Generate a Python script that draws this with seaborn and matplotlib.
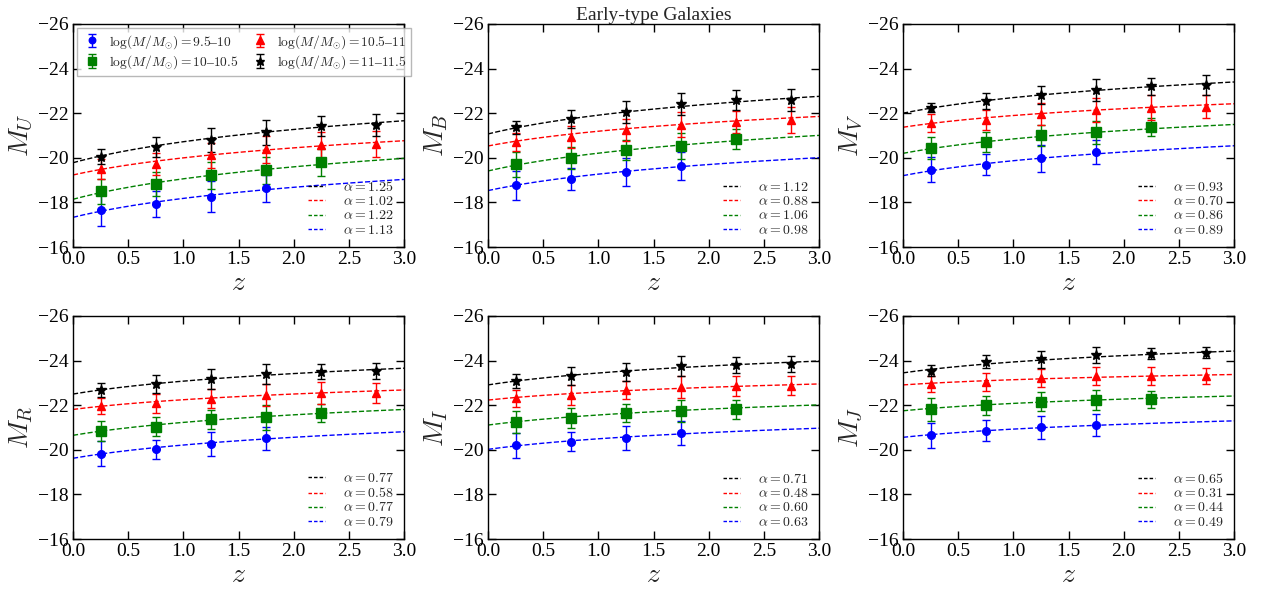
import numpy as np
import pandas as pd
import matplotlib
matplotlib.use("Agg")
import matplotlib.pyplot as plt
import seaborn as sns
from matplotlib.lines import Line2D

# ---------------- data ----------------
bands = ["U", "B", "V", "R", "I", "J"]
z_bins = [0.25, 0.75, 1.25, 1.75, 2.25, 2.75]
mass_labels = [r"$\log(M/M_{\odot})=9.5$–$10$", r"$\log(M/M_{\odot})=10$–$10.5$",
               r"$\log(M/M_{\odot})=10.5$–$11$", r"$\log(M/M_{\odot})=11$–$11.5$"]
colors = ["b", "g", "r", "k"]
markers = ["o", "s", "^", "*"]
marker_sizes = [5.5, 6.5, 6.0, 7.5]

# magnitudes per band, per mass bin (blue, green, red, black)
mag_U = [[-17.64, -17.94, -18.26, -18.63],
         [-18.50, -18.83, -19.21, -19.44, -19.80],
         [-19.48, -19.72, -20.11, -20.38, -20.56, -20.62],
         [-20.05, -20.47, -20.80, -21.14, -21.43, -21.46]]
err_U = [[0.70, 0.58, 0.70, 0.60],
         [0.55, 0.55, 0.60, 0.60, 0.60],
         [0.45, 0.50, 0.55, 0.60, 0.60, 0.60],
         [0.35, 0.45, 0.55, 0.55, 0.45, 0.50]]
mag_B = [[-18.78, -19.06, -19.35, -19.63],
         [-19.71, -19.98, -20.35, -20.53, -20.83],
         [-20.69, -20.92, -21.25, -21.49, -21.62, -21.70],
         [-21.37, -21.75, -22.05, -22.40, -22.60, -22.60]]
err_B = [[0.65, 0.50, 0.63, 0.62],
         [0.55, 0.50, 0.45, 0.60, 0.45],
         [0.40, 0.50, 0.50, 0.55, 0.50, 0.60],
         [0.30, 0.40, 0.50, 0.50, 0.45, 0.50]]
mag_V = [[-19.47, -19.68, -19.98, -20.25],
         [-20.43, -20.69, -21.01, -21.14, -21.37],
         [-21.55, -21.70, -21.95, -22.15, -22.25, -22.30],
         [-22.25, -22.55, -22.80, -23.05, -23.20, -23.25]]
err_V = [[0.55, 0.47, 0.60, 0.55],
         [0.50, 0.45, 0.47, 0.50, 0.40],
         [0.40, 0.45, 0.50, 0.55, 0.55, 0.50],
         [0.20, 0.35, 0.40, 0.50, 0.40, 0.45]]
mag_R = [[-19.83, -20.02, -20.27, -20.51],
         [-20.84, -21.04, -21.37, -21.46, -21.64],
         [-21.96, -22.08, -22.30, -22.46, -22.56, -22.53],
         [-22.68, -22.94, -23.17, -23.39, -23.51, -23.53]]
err_R = [[0.55, 0.43, 0.55, 0.52],
         [0.46, 0.41, 0.43, 0.56, 0.41],
         [0.37, 0.42, 0.43, 0.50, 0.49, 0.45],
         [0.30, 0.40, 0.45, 0.45, 0.35, 0.35]]
mag_I = [[-20.20, -20.36, -20.54, -20.75],
         [-21.23, -21.41, -21.66, -21.75, -21.81],
         [-22.31, -22.46, -22.68, -22.80, -22.88, -22.88],
         [-23.10, -23.32, -23.50, -23.75, -23.80, -23.85]]
err_I = [[0.55, 0.43, 0.54, 0.55],
         [0.49, 0.45, 0.41, 0.50, 0.41],
         [0.39, 0.43, 0.40, 0.49, 0.45, 0.43],
         [0.32, 0.40, 0.40, 0.45, 0.35, 0.35]]
mag_J = [[-20.66, -20.86, -21.01, -21.11],
         [-21.81, -22.00, -22.16, -22.23, -22.26],
         [-22.95, -23.05, -23.21, -23.31, -23.31, -23.31],
         [-23.55, -23.95, -24.05, -24.25, -24.30, -24.35]]
err_J = [[0.56, 0.46, 0.51, 0.50],
         [0.50, 0.43, 0.43, 0.45, 0.37],
         [0.37, 0.40, 0.40, 0.40, 0.40, 0.35],
         [0.25, 0.30, 0.40, 0.35, 0.25, 0.25]]

# fit parameters: M(z) = M0 - 2.5 * alpha * log10(1+z)   (blue, green, red, black)
fit_M0_U = [-17.33, -18.14, -19.23, -19.78]
fit_alpha_U = [1.13, 1.22, 1.02, 1.25]
fit_M0_B = [-18.53, -19.41, -20.53, -21.07]
fit_alpha_B = [0.98, 1.06, 0.88, 1.12]
fit_M0_V = [-19.20, -20.20, -21.37, -22.00]
fit_alpha_V = [0.89, 0.86, 0.70, 0.93]
fit_M0_R = [-19.62, -20.65, -21.81, -22.50]
fit_alpha_R = [0.79, 0.77, 0.58, 0.77]
fit_M0_I = [-20.02, -21.11, -22.23, -22.91]
fit_alpha_I = [0.63, 0.60, 0.48, 0.71]
fit_M0_J = [-20.56, -21.75, -22.91, -23.45]
fit_alpha_J = [0.49, 0.44, 0.31, 0.65]

mags = [mag_U, mag_B, mag_V, mag_R, mag_I, mag_J]
errs = [err_U, err_B, err_V, err_R, err_I, err_J]
fit_M0 = [fit_M0_U, fit_M0_B, fit_M0_V, fit_M0_R, fit_M0_I, fit_M0_J]
fit_alpha = [fit_alpha_U, fit_alpha_B, fit_alpha_V, fit_alpha_R, fit_alpha_I, fit_alpha_J]

title = "Early-type Galaxies"

# ---------------- style ----------------
sns.set_style("ticks")
plt.rcParams["font.family"] = ["Liberation Serif", "DejaVu Serif"]
plt.rcParams["mathtext.fontset"] = "cm"
plt.rcParams["axes.unicode_minus"] = True

W, H = 1266, 593
fig = plt.figure(figsize=(W / 100, H / 100), dpi=100)
lefts = [73, 488, 903]
tops = [24, 316]
aw, ah = 331, 223

zgrid = np.linspace(0, 3, 200)

for i, band in enumerate(bands):
    r, c = divmod(i, 3)
    ax = fig.add_axes([lefts[c] / W, 1 - (tops[r] + ah) / H, aw / W, ah / H])
    fit_handles = []
    for k in range(4):
        m0 = fit_M0[i][k]
        al = fit_alpha[i][k]
        df = pd.DataFrame({"z": zgrid, "M": m0 - 2.5 * al * np.log10(1 + zgrid)})
        sns.lineplot(data=df, x="z", y="M", ax=ax, color=colors[k],
                     linestyle="--", linewidth=1.0, dashes=False, legend=False)
        fit_handles.append(Line2D([], [], color=colors[k], linestyle="--", linewidth=1.0,
                                  dashes=(2.5, 1.5), label=r"$\alpha = %.2f$" % al))
    pt_handles = []
    for k in range(4):
        y = mags[i][k]
        e = errs[i][k]
        x = z_bins[:len(y)]
        h = ax.errorbar(x, y, yerr=e, fmt=markers[k], color=colors[k], mec=colors[k],
                        ms=marker_sizes[k], capsize=3,
                        elinewidth=1.0, capthick=1.0, label=mass_labels[k])
        pt_handles.append(h)

    ax.set_xlim(0, 3)
    ax.set_ylim(-16, -26)
    ax.set_xticks(np.arange(0, 3.01, 0.5))
    ax.set_yticks(np.arange(-26, -15, 2))
    ax.tick_params(direction="in", top=True, right=True, length=6, width=1,
                   labelsize=14, colors="black", pad=3)
    for sp in ax.spines.values():
        sp.set_visible(True)
        sp.set_color("black")
        sp.set_linewidth(1.0)
    ax.set_xlabel(r"$z$", fontsize=20, labelpad=2)
    ax.set_ylabel(r"$M_{%s}$" % band, fontsize=20, labelpad=2)

    # alpha legend (black, red, green, blue order)
    leg_a = ax.legend(handles=[fit_handles[3], fit_handles[2], fit_handles[1], fit_handles[0]],
                      loc="lower right", frameon=False, fontsize=10,
                      handlelength=1.2, labelspacing=0.08, handletextpad=1.3,
                      borderaxespad=0.35)
    if i == 0:
        ax.add_artist(leg_a)
        leg = ax.legend(handles=pt_handles, loc="upper left", ncol=2, fontsize=9.7,
                        numpoints=1, frameon=True, fancybox=False,
                        borderaxespad=0.3, columnspacing=0.9, handletextpad=0.5,
                        handlelength=1.5, borderpad=0.35, labelspacing=0.22,
                        markerscale=0.85)
        leg.get_frame().set_edgecolor("0.65")
        leg.get_frame().set_linewidth(1.0)
    if i == 1:
        ax.set_title(title, fontsize=14, pad=3)

fig.savefig("out.png", dpi=100)
